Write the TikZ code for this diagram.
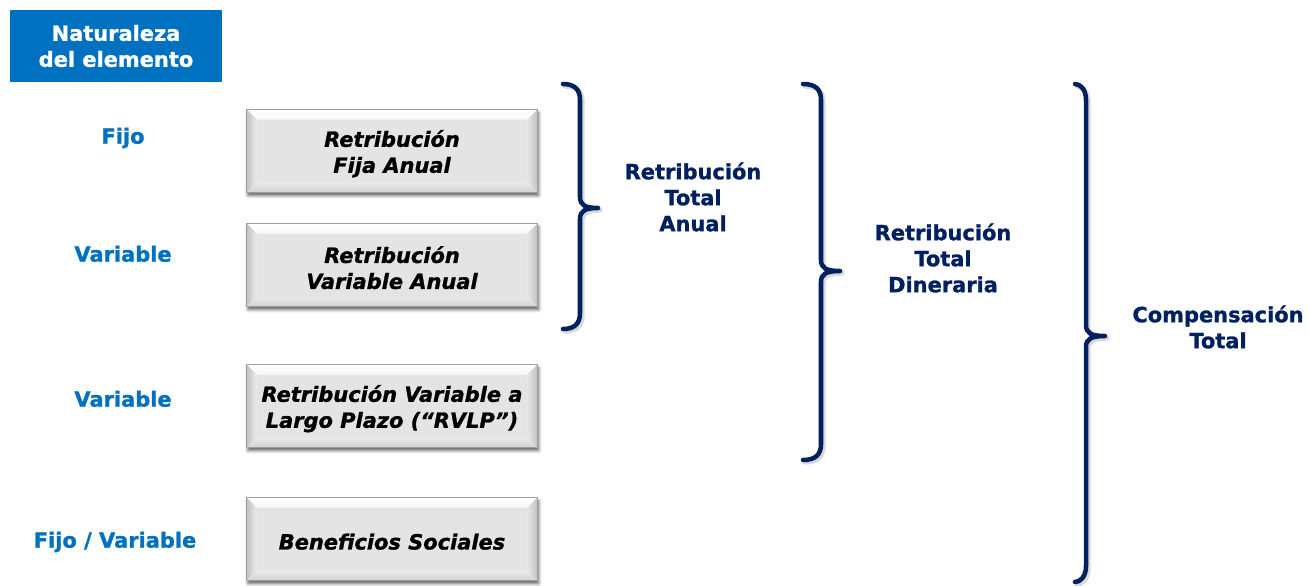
\documentclass[tikz,border=0pt]{standalone}
\usepackage{fontspec}
\setmainfont{DejaVu Sans}[BoldFeatures={FakeBold=1.2}, BoldItalicFeatures={FakeBold=1.2}]
\usetikzlibrary{shadows.blur}

\definecolor{headblue}{RGB}{0,112,192}
\definecolor{navy}{RGB}{0,32,96}
\definecolor{facegray}{RGB}{228,228,228}

\newcommand\lbl{\fontsize{15.7}{19.5}\selectfont\bfseries}
\newcommand\lblit{\fontsize{15.7}{19.5}\selectfont\bfseries\itshape}

\tikzset{
  header/.style={fill=headblue, text=white, minimum width=159pt, minimum height=54pt,
    inner sep=0pt, align=center, font=\lbl},
  kind/.style={text=headblue, font=\lbl, inner sep=0pt, text height=12.5pt, text depth=1pt},
  group/.style={text=navy, font=\lbl, align=center, inner sep=0pt},
  boxtext/.style={font=\lblit, align=center, inner sep=0pt, yshift=-2pt},
  bevelbox/.style={minimum width=218.25pt, minimum height=62.25pt, inner sep=0pt,
    fill=facegray, draw=gray!75, line width=0.4pt,
    blur shadow={shadow xshift=1pt, shadow yshift=-2.4pt, shadow blur radius=2.2pt, shadow opacity=60},
    path picture={
      \coordinate (nw) at (path picture bounding box.north west);
      \coordinate (ne) at (path picture bounding box.north east);
      \coordinate (sw) at (path picture bounding box.south west);
      \coordinate (se) at (path picture bounding box.south east);
      % top bevel
      \fill[top color=white, bottom color=gray!6] (nw) -- (ne) -- ([shift={(-7.5pt,-7.5pt)}]ne) -- ([shift={(7.5pt,-7.5pt)}]nw) -- cycle;
      % left bevel
      \fill[left color=gray!50, right color=gray!14] (nw) -- ([shift={(7.5pt,-7.5pt)}]nw) -- ([shift={(7.5pt,7.5pt)}]sw) -- (sw) -- cycle;
      % right bevel
      \fill[left color=gray!20, right color=gray!48] (ne) -- ([shift={(-7.5pt,-7.5pt)}]ne) -- ([shift={(-7.5pt,7.5pt)}]se) -- (se) -- cycle;
      % bottom bevel
      \fill[top color=gray!16, bottom color=gray!36] (sw) -- ([shift={(7.5pt,7.5pt)}]sw) -- ([shift={(-7.5pt,7.5pt)}]se) -- (se) -- cycle;
    }},
  bracestyle/.style={draw=navy, line width=3.4pt, line cap=round, line join=round},
  braceshade/.style={draw=black, opacity=0.15, line width=4pt, line cap=round, line join=round}
}

% curly brace: end x, stem x, tip x, top y, tip y, bottom y (pixel units)
\newcommand\curlypath[6]{(#1,#4) .. controls ({#2-6},#4) and (#2,{#4+5}) .. (#2,{#4+16})
  -- (#2,{#5-11}) .. controls (#2,{#5-3}) and ({#2+5},#5) .. (#3,#5)
  .. controls ({#2+5},#5) and (#2,{#5+3}) .. (#2,{#5+11})
  -- (#2,{#6-16}) .. controls (#2,{#6-5}) and ({#2-6},#6) .. (#1,#6)}
\newcommand\curlybrace[6]{%
  \draw[braceshade, shift={(1.5pt,-1.5pt)}] \curlypath{#1}{#2}{#3}{#4}{#5}{#6};
  \draw[bracestyle] \curlypath{#1}{#2}{#3}{#4}{#5}{#6};}

\begin{document}
\begin{tikzpicture}[x=0.75pt, y=-0.75pt]
  \useasboundingbox (0,0) rectangle (1308,585);

  % header
  \node[header] (head) at (116,46) {Naturaleza\\del elemento};

  % nature of each element
  \node[kind] (k1) at (123,136) {Fijo};
  \node[kind] (k2) at (123,254) {Variable};
  \node[kind] (k3) at (123,399) {Variable};
  \node[kind] (k4) at (115,540) {Fijo / Variable};

  % pay elements
  \node[bevelbox] (b1) at (392,151) {};
  \node[bevelbox] (b2) at (392,265) {};
  \node[bevelbox] (b3) at (392,406) {};
  \node[bevelbox] (b4) at (392,539) {};
  \node[boxtext] (t1) at (b1) {Retribución\\Fija Anual};
  \node[boxtext] (t2) at (b2) {Retribución\\Variable Anual};
  \node[boxtext] (t3) at (b3) {Retribución Variable a\\Largo Plazo (“RVLP”)};
  \node[boxtext] (t4) at (b4) {Beneficios Sociales};

  % groupings
  \curlybrace{563}{580}{598}{84}{208}{329}
  \curlybrace{803}{821}{840}{84}{271}{460}
  \curlybrace{1075}{1086}{1105}{84}{336}{582}

  \node[group] (g1) at (693,197) {Retribución\\Total\\Anual};
  \node[group] (g2) at (943,258) {Retribución\\Total\\Dineraria};
  \node[group] (g3) at (1218,327) {Compensación\\Total};
\end{tikzpicture}
\end{document}
